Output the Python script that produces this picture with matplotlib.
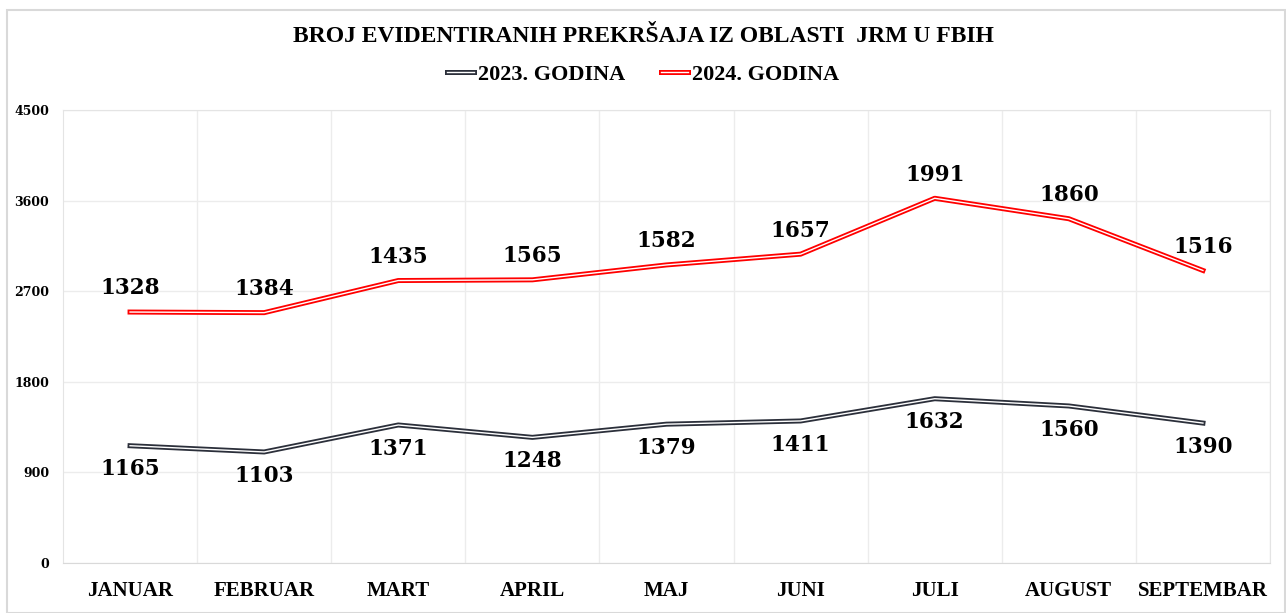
import matplotlib
matplotlib.use('Agg')
from matplotlib import pyplot as plt
from matplotlib import patheffects as pe
from matplotlib.patches import Rectangle

# Data.
months = ['JANUAR', 'FEBRUAR', 'MART', 'APRIL', 'MAJ', 'JUNI', 'JULI',
          'AUGUST', 'SEPTEMBAR']
y2023 = [1165, 1103, 1371, 1248, 1379, 1411, 1632, 1560, 1390]
y2024 = [1328, 1384, 1435, 1565, 1582, 1657, 1991, 1860, 1516]
yticks = [0, 900, 1800, 2700, 3600, 4500]

# Stacked line: 2024 sits on top of 2023.
stacked = [a + b for a, b in zip(y2023, y2024)]
x = list(range(len(months)))

serif = ['Liberation Serif', 'DejaVu Serif']
num_font = ['DejaVu Serif']

fig = plt.figure(figsize=(12.86, 6.13), dpi=100)
ax = fig.add_axes([63 / 1286, 1 - 563 / 613, 1207 / 1286, 453 / 613])


def double_line(color):
    return [pe.Stroke(linewidth=3.6, foreground=color),
            pe.Stroke(linewidth=1.0, foreground='white')]


ax.plot(x, y2023, color='#2b2f3a', lw=3.6, label='2023. GODINA',
        path_effects=double_line('#2b2f3a'), zorder=3)
ax.plot(x, stacked, color='#ff0000', lw=3.6, label='2024. GODINA',
        path_effects=double_line('#ff0000'), zorder=3)

# Data labels.
for xi, yi, v in zip(x, y2023, y2023):
    ax.annotate(str(v), (xi, yi), xytext=(0, -17), textcoords='offset points',
                ha='center', va='center', fontsize=15.5, fontweight='bold',
                family=num_font, color='black')
for xi, yi, v in zip(x, stacked, y2024):
    ax.annotate(str(v), (xi, yi), xytext=(0, 17), textcoords='offset points',
                ha='center', va='center', fontsize=15.5, fontweight='bold',
                family=num_font, color='black')

# Axes formatting.
ax.set_xlim(-0.5, len(months) - 0.5)
ax.set_ylim(0, 4500)
ax.set_yticks(yticks)
ax.set_yticklabels([str(t) for t in yticks], fontsize=9, fontweight='bold',
                   family=num_font)
ax.set_xticks(x)
ax.set_xticklabels(months, fontsize=15, fontweight='bold', family=serif)
ax.set_xticks([i + 0.5 for i in x], minor=True)
ax.tick_params(axis='both', which='both', length=0)
ax.tick_params(axis='x', pad=13)
ax.tick_params(axis='y', pad=10)
ax.grid(True, which='major', axis='y', color='#ececec', lw=1)
ax.grid(True, which='minor', axis='x', color='#ececec', lw=1)
ax.set_axisbelow(True)
for side in ['left', 'right', 'top', 'bottom']:
    ax.spines[side].set_color('#e4e4e4')
ax.spines['bottom'].set_color('#d9d9d9')

# Title and legend.
fig.text(0.5, 1 - 37 / 613, 'BROJ EVIDENTIRANIH PREKRŠAJA IZ OBLASTI  JRM U FBIH',
         ha='center', va='center', fontsize=17, fontweight='bold', family=serif)
fig.legend(loc='center', bbox_to_anchor=(0.5, 1 - 75 / 613), ncol=2,
           frameon=False, prop={'family': serif, 'weight': 'bold', 'size': 16},
           handlelength=1.2, handletextpad=0.2, columnspacing=1.6)

# Chart border.
fig.patches.append(Rectangle((7 / 1286, 0), 1278 / 1286, 1 - 10 / 613,
                             transform=fig.transFigure, fill=False,
                             edgecolor='#d9d9d9', lw=1.5))

fig.savefig('out.png', dpi=100)
